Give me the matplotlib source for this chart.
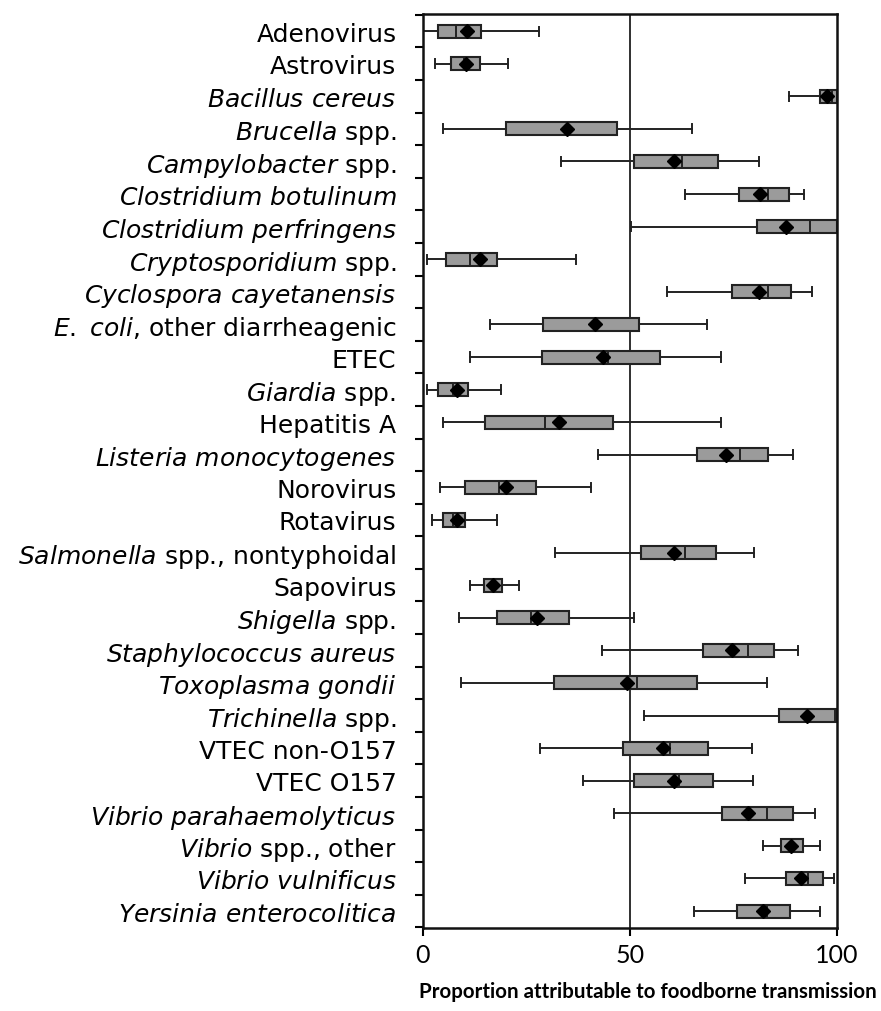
import matplotlib
matplotlib.use('Agg')
import matplotlib.pyplot as plt
import numpy as np

plt.rcParams['font.family'] = 'DejaVu Sans'
plt.rcParams['mathtext.fontset'] = 'dejavusans'

pathogens = [
    'Adenovirus', 'Astrovirus', r'$\mathit{Bacillus\ cereus}$', r'$\mathit{Brucella}$ spp.',
    r'$\mathit{Campylobacter}$ spp.', r'$\mathit{Clostridium\ botulinum}$',
    r'$\mathit{Clostridium\ perfringens}$', r'$\mathit{Cryptosporidium}$ spp.',
    r'$\mathit{Cyclospora\ cayetanensis}$', r'$\mathit{E.}$ $\mathit{coli}$, other diarrheagenic',
    'ETEC', r'$\mathit{Giardia}$ spp.', 'Hepatitis A', r'$\mathit{Listeria\ monocytogenes}$',
    'Norovirus', 'Rotavirus', r'$\mathit{Salmonella}$ spp., nontyphoidal', 'Sapovirus',
    r'$\mathit{Shigella}$ spp.', r'$\mathit{Staphylococcus\ aureus}$', r'$\mathit{Toxoplasma\ gondii}$',
    r'$\mathit{Trichinella}$ spp.', 'VTEC non-O157', 'VTEC O157',
    r'$\mathit{Vibrio\ parahaemolyticus}$', r'$\mathit{Vibrio}$ spp., other',
    r'$\mathit{Vibrio\ vulnificus}$', r'$\mathit{Yersinia\ enterocolitica}$',
]

whisker_low = [0.0, 2.9, 88.3, 4.8, 33.3, 63.3, 50.2, 1.0, 59.0, 16.2, 11.4, 1.0, 4.8, 42.4,
               4.1, 2.1, 31.9, 11.4, 8.7, 43.2, 9.1, 53.4, 28.3, 38.6, 46.1, 82.2, 77.9, 65.5]
q1 = [3.7, 6.7, 95.9, 20.0, 51.0, 76.4, 80.8, 5.6, 74.6, 29.1, 28.7, 3.7, 15.0, 66.3,
      10.1, 4.8, 52.7, 14.7, 17.8, 67.7, 31.7, 86.0, 48.4, 51.0, 72.3, 86.4, 87.6, 75.8]
median = [8.1, 10.0, 98.9, 34.9, 62.6, 83.4, 93.5, 11.4, 83.4, 41.5, 44.8, 7.3, 29.5, 76.6,
          18.4, 7.2, 63.3, 17.0, 26.1, 78.4, 51.6, 99.5, 59.8, 61.9, 83.0, 89.0, 92.9, 83.0]
mean = [10.7, 10.5, 97.7, 34.9, 60.6, 81.4, 87.8, 13.9, 81.2, 41.5, 43.4, 8.3, 32.9, 73.1,
        20.0, 8.3, 60.6, 17.0, 27.6, 74.6, 49.2, 92.7, 58.0, 60.6, 78.4, 89.0, 91.2, 82.2]
q3 = [14.0, 13.8, 100.0, 47.0, 71.3, 88.4, 100.0, 17.8, 89.0, 52.3, 57.2, 11.0, 45.8, 83.4,
      27.3, 10.1, 70.8, 19.2, 35.3, 84.9, 66.3, 100.0, 68.9, 70.1, 89.5, 91.9, 96.7, 88.6]
whisker_high = [28.0, 20.5, 100.0, 64.9, 81.2, 92.1, 100.0, 37.1, 94.0, 68.7, 72.1, 18.8, 72.1, 89.5,
                40.5, 17.8, 80.0, 23.1, 51.0, 90.5, 83.0, 100.0, 79.5, 79.8, 94.7, 95.9, 99.4, 95.9]

stats = []
for i in range(len(pathogens)):
    stats.append({'whislo': whisker_low[i], 'q1': q1[i], 'med': median[i], 'mean': mean[i],
                  'q3': q3[i], 'whishi': whisker_high[i], 'fliers': []})

fig = plt.figure(figsize=(8.81, 10.12), dpi=100)
ax = fig.add_axes([0.480, 0.082, 0.470, 0.903])

positions = np.arange(len(pathogens))
ax.axvline(50, color='#202020', lw=1.3, zorder=1)
ax.bxp(stats, positions=positions, orientation='horizontal', widths=0.4, patch_artist=True,
       showmeans=True, showfliers=False,
       boxprops=dict(facecolor='#9b9b9b', edgecolor='#222222', lw=1.5),
       medianprops=dict(color='#222222', lw=1.4),
       whiskerprops=dict(color='#222222', lw=1.4),
       capprops=dict(color='#222222', lw=1.4),
       meanprops=dict(marker='D', markerfacecolor='black', markeredgecolor='black', markersize=7),
       capwidths=0.28, zorder=2)

ax.set_xlim(0, 100)
ax.set_ylim(len(pathogens) - 0.48, -0.52)
ax.set_xticks([0, 50, 100])
ax.set_xticklabels(['0', '50', '100'], fontfamily='Lato', fontsize=18)
ax.set_yticks(positions)
ax.set_yticklabels(pathogens, fontsize=18)
ax.set_yticks(np.arange(len(pathogens) + 1) - 0.5, minor=True)
ax.tick_params(axis='y', which='major', length=0, pad=19)
ax.tick_params(axis='y', which='minor', length=6, width=1.5, direction='out')
ax.tick_params(axis='x', length=6, width=1.5, direction='out', pad=5)
for s in ax.spines.values():
    s.set_linewidth(1.8)
    s.set_color('#111111')

fig.text(0.735, 0.02, 'Proportion attributable to foodborne transmission', ha='center', va='center',
         fontfamily='Lato', fontweight='bold', fontsize=14.8)

fig.savefig('out.png', dpi=100)
plt.close(fig)
